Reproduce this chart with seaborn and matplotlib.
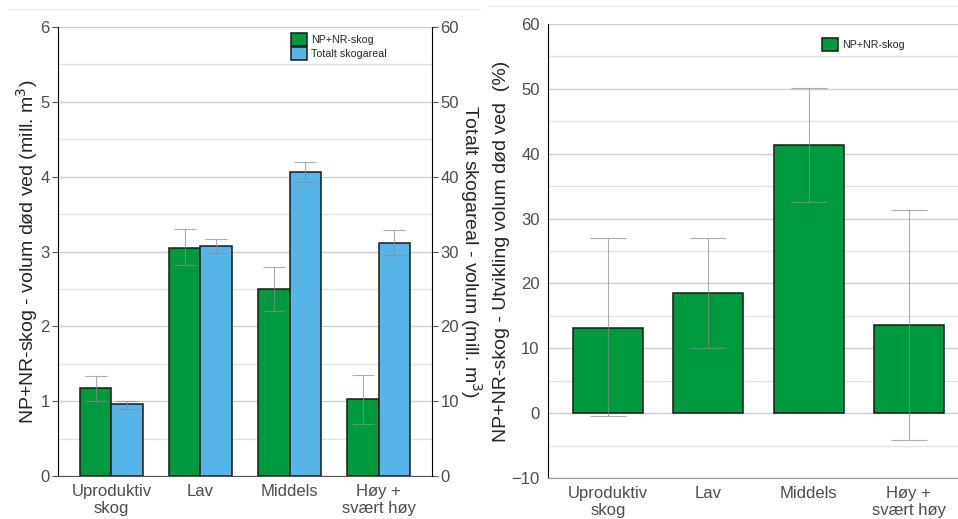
import numpy as np
import pandas as pd
import matplotlib
matplotlib.use('Agg')
import matplotlib.pyplot as plt
import seaborn as sns
from matplotlib.ticker import MultipleLocator
from matplotlib.patches import Patch
from matplotlib.lines import Line2D

# Data
kategorier = ["Uproduktiv\nskog", "Lav", "Middels", "Høy +\nsvært høy"]
serier = ["NP+NR-skog", "Totalt skogareal"]

# NP+NR-skog, volum død ved (mill. m3) with lower/upper error limits
np_volum = [1.17, 3.05, 2.50, 1.03]
np_lav = [1.00, 2.82, 2.20, 0.70]
np_hoy = [1.34, 3.30, 2.79, 1.35]

# Totalt skogareal, volum (mill. m3) on the secondary axis
tot_volum = [9.6, 30.8, 40.6, 31.2]
tot_lav = [8.9, 29.8, 39.3, 29.5]
tot_hoy = [10.0, 31.7, 41.9, 32.9]

# NP+NR-skog, utvikling volum død ved (%)
utv = [13.1, 18.5, 41.4, 13.6]
utv_lav = [-0.5, 10.0, 32.6, -4.2]
utv_hoy = [27.0, 27.0, 50.1, 31.3]

farger = {"NP+NR-skog": "#009a3e", "Totalt skogareal": "#56b4e9"}
tekstfarge = "#4d4d4d"

sns.set_style("white")
plt.rcParams['font.family'] = ['Liberation Sans', 'DejaVu Sans']

# one row per bar; each axis gets its own value column (NaN for the other series)
df = pd.DataFrame({
    'kategori': kategorier * 2,
    'serie': [serier[0]] * 4 + [serier[1]] * 4,
    'verdi_np': np_volum + [np.nan] * 4,
    'verdi_tot': [np.nan] * 4 + tot_volum,
})
df_utv = pd.DataFrame({'kategori': kategorier, 'verdi': utv})

W, H = 958, 519
fig = plt.figure(figsize=(W / 100, H / 100), dpi=100)
ax1 = fig.add_axes([58 / W, 1 - 476 / H, (432 - 58) / W, (476 - 27) / H])
ax2 = ax1.twinx()
ax3 = fig.add_axes([548 / W, 1 - 478 / H, (958 - 548) / W, (478 - 24) / H])

bar_kw = dict(x='kategori', order=kategorier, width=0.7, saturation=1,
              edgecolor='#1a1a1a', linewidth=1.1, errorbar=None)
err_kw = dict(fmt='none', ecolor='#8c8c8c', elinewidth=0.8, capthick=0.8, alpha=0.7)


def senter(ax):
    xs = [p.get_x() + p.get_width() / 2 for p in ax.patches
          if np.isfinite(p.get_height()) and p.get_height() != 0]
    return np.array(sorted(xs))


# Left panel: green on primary axis, blue on twin axis
sns.barplot(data=df, y='verdi_np', hue='serie', hue_order=serier,
            palette=farger, legend=False, ax=ax1, **bar_kw)
sns.barplot(data=df, y='verdi_tot', hue='serie', hue_order=serier,
            palette=farger, legend=False, ax=ax2, **bar_kw)

v = np.array(np_volum)
ax1.errorbar(senter(ax1), v, yerr=[v - np.array(np_lav), np.array(np_hoy) - v],
             capsize=8, **err_kw)
v = np.array(tot_volum)
ax2.errorbar(senter(ax2), v, yerr=[v - np.array(tot_lav), np.array(tot_hoy) - v],
             capsize=8, **err_kw)

ax1.set_xlim(-0.6, 3.6)
ax1.set_ylim(0, 6)
ax2.set_ylim(0, 60)
ax1.yaxis.set_major_locator(MultipleLocator(1))
ax1.yaxis.set_minor_locator(MultipleLocator(0.5))
ax2.yaxis.set_major_locator(MultipleLocator(10))
ax1.grid(axis='y', which='major', color='#cfcfcf', lw=1)
ax1.grid(axis='y', which='minor', color='#e3e3e3', lw=1)
ax1.set_axisbelow(True)
ax2.grid(False)

ax1.set_xlabel('')
ax2.set_xlabel('')
ax1.set_ylabel('NP+NR-skog - volum død ved (mill. m$^3$)', fontsize=14, labelpad=0.5)
ax2.set_ylabel('Totalt skogareal - volum (mill. m$^3$)', fontsize=14,
               rotation=270, labelpad=18)

for s in ['top']:
    ax1.spines[s].set_visible(False)
    ax2.spines[s].set_visible(False)
ax1.spines['right'].set_visible(False)
ax2.spines['left'].set_visible(False)
ax2.spines['bottom'].set_visible(False)
ax1.spines['left'].set_color('black')
ax2.spines['right'].set_color('black')
ax1.spines['bottom'].set_color('#555555')

ax2.legend(handles=[Patch(facecolor=farger[s], edgecolor='#1a1a1a', lw=1.1, label=s) for s in serier],
           loc='upper left', bbox_to_anchor=(0.623, 0.987), frameon=False, fontsize=7.7,
           handlelength=1.5, handleheight=1.5, handletextpad=0.4, labelspacing=0.1,
           borderpad=0, borderaxespad=0)

# Right panel
sns.barplot(data=df_utv, y='verdi', color=farger[serier[0]], ax=ax3, **bar_kw)
v = np.array(utv)
ax3.errorbar(senter(ax3), v, yerr=[v - np.array(utv_lav), np.array(utv_hoy) - v],
             capsize=13, **err_kw)
ax3.set_xlim(-0.6, 3.49)
ax3.set_ylim(-10, 60)
ax3.yaxis.set_major_locator(MultipleLocator(10))
ax3.yaxis.set_minor_locator(MultipleLocator(5))
ax3.grid(axis='y', which='major', color='#cfcfcf', lw=1)
ax3.grid(axis='y', which='minor', color='#e3e3e3', lw=1)
ax3.set_axisbelow(True)
ax3.set_xlabel('')
ax3.set_ylabel('NP+NR-skog - Utvikling volum død ved  (%)', fontsize=14, labelpad=1)
for s in ['top', 'right']:
    ax3.spines[s].set_visible(False)
ax3.spines['left'].set_color('black')
ax3.spines['bottom'].set_color('#999999')
ax3.legend(handles=[Patch(facecolor=farger[serier[0]], edgecolor='#1a1a1a', lw=1.1, label=serier[0])],
           loc='upper left', bbox_to_anchor=(0.668, 0.969), frameon=False, fontsize=7.7,
           handlelength=1.5, handleheight=1.5, handletextpad=0.4,
           borderpad=0, borderaxespad=0)

for ax in [ax1, ax2, ax3]:
    ax.tick_params(axis='both', which='major', direction='out', length=4, width=0.8,
                   color='#555555', labelcolor=tekstfarge, labelsize=12, pad=2)
    ax.tick_params(axis='y', which='minor', length=0)
    for lbl in ax.get_xticklabels():
        lbl.set_linespacing(1.1)

# faint panel borders at the top
fig.add_artist(Line2D([8 / W, 480 / W], [1 - 9 / H] * 2, color='#ebebeb', lw=1))
fig.add_artist(Line2D([488 / W, 1], [1 - 6 / H] * 2, color='#ebebeb', lw=1))

fig.savefig('out.png', dpi=100)
